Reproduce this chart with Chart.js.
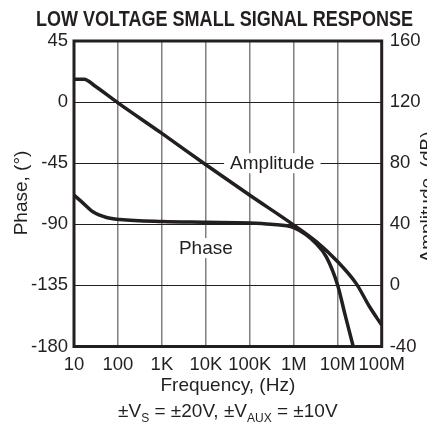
<!DOCTYPE html>
<html>
<head>
<meta charset="utf-8">
<script src="https://cdn.jsdelivr.net/npm/chart.js@4/dist/chart.umd.min.js"></script>
<style>
  body { margin: 0; background: #fff; }
  #wrap { width: 427px; height: 428px; }
</style>
</head>
<body>
<div id="wrap"><canvas id="responseChart"></canvas></div>
<script>
const TITLE = "LOW VOLTAGE SMALL SIGNAL RESPONSE";
const X_TITLE = "Frequency, (Hz)";
const PHASE_TITLE = "Phase, (°)";
const AMPLITUDE_TITLE = "Amplitude, (dB)";
// subtitle pieces: [text, isSubscript]
const SUBTITLE = [["±V", false], ["S", true], [" = ±20V, ±V", false], ["AUX", true], [" = ±10V", false]];

const freqTicks = [10, 100, 1e3, 1e4, 1e5, 1e6, 1e7, 1e8];
const freqTickLabels = ["10", "100", "1K", "10K", "100K", "1M", "10M", "100M"];
const phaseTicks = [-180, -135, -90, -45, 0, 45];
const ampTicks = [-40, 0, 40, 80, 120, 160];

// amplitude, dB (right axis)
const ampFreq = [10, 17, 30, 100, 1e3, 1e4, 1e5, 1e6, 3.3e6, 1e7, 2.66e7, 5.3e7, 1e8];
const ampDb = [135, 135, 130.5, 119.5, 99.5, 79, 59, 39.5, 28.5, 15.5, 1, -14, -26];

// phase, degrees (left axis)
const phaseFreq = [10, 15, 27.5, 55, 111, 1e3, 1e4, 1e5, 3e5, 1e6, 3.3e6, 5.5e6, 1e7, 1.45e7, 2.25e7];
const phaseDeg = [-68.5, -73.5, -81, -85, -86.5, -88, -88.5, -89, -90, -92.5, -104.5, -114, -135, -156, -180];

// curve names written on the plot: [text, frequency, phase]
const curveLabels = [["Amplitude", 3.25e5, -45], ["Phase", 1e4, -107.5]];

const INK = "#231f20";
const FONT_FAMILY = '"Liberation Sans", Arial, Helvetica, sans-serif';
const TEXT_FONT = '19px ' + FONT_FAMILY;

Chart.defaults.font.family = FONT_FAMILY;
Chart.defaults.font.size = 18.5;
Chart.defaults.color = INK;

function toPoints(xs, ys) {
    return xs.map((x, i) => ({ x: x, y: ys[i] }));
}

function setTicks(values) {
    return (scale) => { scale.ticks = values.map(v => ({ value: v })); };
}

const textPlugin = {
    id: 'textPlugin',
    afterDatasetsDraw(chart) {
        const { ctx, chartArea: area, scales } = chart;
        ctx.save();

        // labels on the curves, on a white box that breaks the grid
        ctx.font = TEXT_FONT;
        ctx.textAlign = 'center';
        ctx.textBaseline = 'middle';
        curveLabels.forEach(([text, f, p]) => {
            const x = scales.x.getPixelForValue(f);
            const y = scales.y.getPixelForValue(p);
            const w = ctx.measureText(text).width;
            ctx.fillStyle = '#fff';
            ctx.fillRect(x - w / 2 - 6, y - 10, w + 12, 20);
            ctx.fillStyle = INK;
            ctx.fillText(text, x, y + 1);
        });

        // heavy frame round the plot
        ctx.lineWidth = 3;
        ctx.strokeStyle = INK;
        ctx.strokeRect(area.left, area.top, area.right - area.left, area.bottom - area.top);
        ctx.restore();
    },
    afterDraw(chart) {
        const { ctx, chartArea: area } = chart;
        const midX = (area.left + area.right) / 2;
        ctx.save();
        ctx.fillStyle = INK;
        ctx.textBaseline = 'alphabetic';

        // condensed bold title
        ctx.font = 'bold 22px ' + FONT_FAMILY;
        ctx.textAlign = 'center';
        const tw = ctx.measureText(TITLE).width;
        ctx.save();
        ctx.translate(224.5, 25.5);
        ctx.scale(377 / tw, 1);
        ctx.fillText(TITLE, 0, 0);
        ctx.restore();

        ctx.font = TEXT_FONT;
        ctx.fillText(X_TITLE, midX, 391);

        // both side titles read bottom to top
        ctx.save();
        ctx.translate(27, 193);
        ctx.rotate(-Math.PI / 2);
        ctx.fillText(PHASE_TITLE, 0, 0);
        ctx.restore();

        ctx.save();
        ctx.translate(433, 197);
        ctx.rotate(-Math.PI / 2);
        ctx.fillText(AMPLITUDE_TITLE, 0, 0);
        ctx.restore();

        // supply line with subscripts
        const subFont = '12px ' + FONT_FAMILY;
        let total = 0;
        SUBTITLE.forEach(([t, sub]) => {
            ctx.font = sub ? subFont : TEXT_FONT;
            total += ctx.measureText(t).width;
        });
        let x = midX - total / 2;
        ctx.textAlign = 'left';
        SUBTITLE.forEach(([t, sub]) => {
            ctx.font = sub ? subFont : TEXT_FONT;
            ctx.fillText(t, x, sub ? 422 : 416.5);
            x += ctx.measureText(t).width;
        });
        ctx.restore();
    }
};

const ctx = document.getElementById('responseChart').getContext('2d');
const responseChart = new Chart(ctx, {
    type: 'line',
    data: {
        datasets: [{
            label: 'Amplitude',
            data: toPoints(ampFreq, ampDb),
            yAxisID: 'y1',
            borderColor: INK,
            borderWidth: 3.5,
            pointRadius: 0,
            cubicInterpolationMode: 'monotone',
        }, {
            label: 'Phase',
            data: toPoints(phaseFreq, phaseDeg),
            yAxisID: 'y',
            borderColor: INK,
            borderWidth: 3.5,
            pointRadius: 0,
            cubicInterpolationMode: 'monotone',
        }],
    },
    options: {
        responsive: true,
        maintainAspectRatio: false,
        animation: false,
        layout: { padding: { top: 41, left: 0, right: 0, bottom: 0 } },
        plugins: {
            legend: { display: false },
            tooltip: { enabled: false },
        },
        scales: {
            x: {
                type: 'logarithmic',
                min: 10,
                max: 1e8,
                afterBuildTicks: setTicks(freqTicks),
                afterFit: (scale) => { scale.height = 81.5; },
                ticks: {
                    autoSkip: false,
                    maxRotation: 0,
                    padding: 7,
                    callback: (value) => freqTickLabels[freqTicks.indexOf(value)],
                },
                grid: { color: '#808080', lineWidth: 1.5, drawTicks: false },
                border: { display: false },
            },
            y: {
                position: 'left',
                min: -180,
                max: 45,
                afterBuildTicks: setTicks(phaseTicks),
                afterFit: (scale) => { scale.width = 74; },
                ticks: { padding: 6 },
                grid: { color: INK, lineWidth: 1, drawTicks: false },
                border: { display: false },
            },
            y1: {
                position: 'right',
                min: -40,
                max: 160,
                afterBuildTicks: setTicks(ampTicks),
                afterFit: (scale) => { scale.width = 45.3; },
                ticks: { padding: 8 },
                grid: { drawOnChartArea: false, drawTicks: false },
                border: { display: false },
            },
        },
    },
    plugins: [textPlugin],
});
</script>
</body>
</html>
